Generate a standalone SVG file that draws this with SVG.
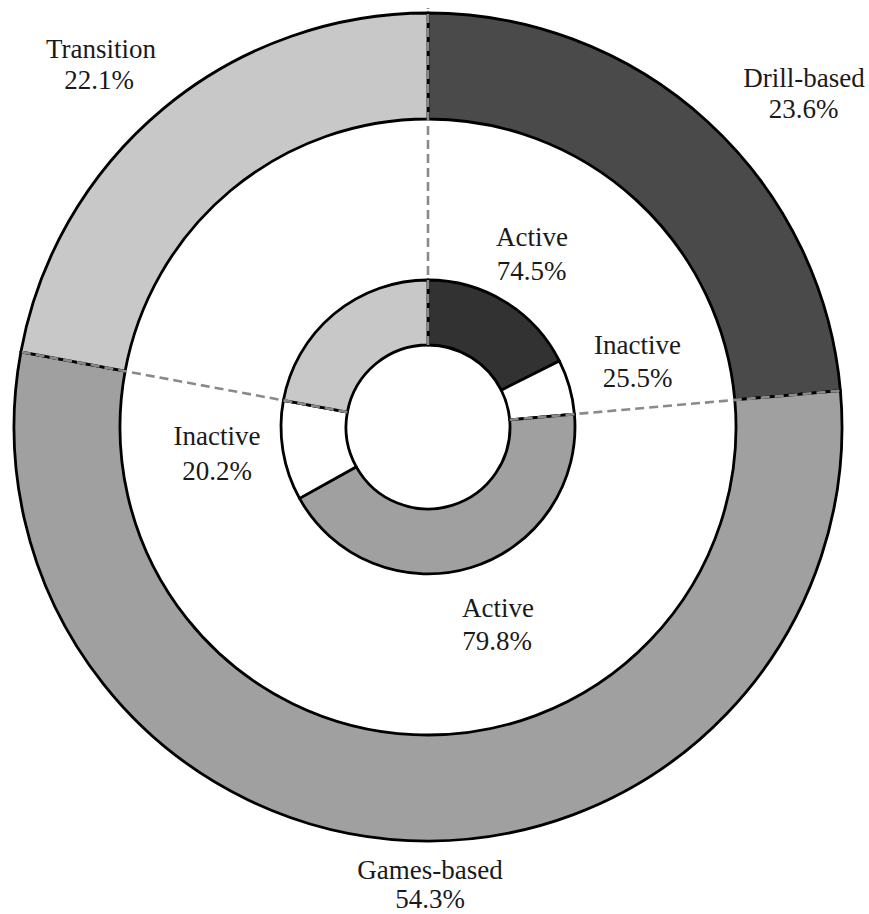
<svg xmlns="http://www.w3.org/2000/svg" width="869" height="914" viewBox="0 0 869 914">
<style>
.seg{stroke:#000;stroke-width:2.8;stroke-linejoin:round}
.drill{fill:#4a4a4a}
.drillA{fill:#323232}
.games{fill:#a0a0a0}
.trans{fill:#c8c8c8}
.white{fill:#fff}
.dash{stroke:#8a8a8a;stroke-width:2.6;stroke-dasharray:9 5;fill:none}
text{font-family:"Liberation Serif","Times New Roman",serif;font-size:27px;fill:#1a1a1a;text-anchor:middle}
</style>
<rect width="869" height="914" fill="#fff"/>
<g id="outer-drill">
<path class="seg drill" d="M428 13 A414 414 0 0 1 840.40 390.63 L734.81 399.94 A308 308 0 0 0 428 119 Z"/>
<text x="804" y="87">Drill-based</text><text x="803.5" y="117.5">23.6%</text>
</g>
<g id="outer-games">
<path class="seg games" d="M840.40 390.63 A414 414 0 1 1 20.86 351.97 L125.10 371.18 A308 308 0 1 0 734.81 399.94 Z"/>
<text x="430" y="879">Games-based</text><text x="430" y="908">54.3%</text>
</g>
<g id="outer-transition">
<path class="seg trans" d="M20.86 351.97 A414 414 0 0 1 428 13 L428 119 A308 308 0 0 0 125.10 371.18 Z"/>
<text x="101" y="58">Transition</text><text x="99" y="88.5">22.1%</text>
</g>
<g id="inner-drill-active">
<path class="seg drillA" d="M428 280 A147 147 0 0 1 559.33 360.95 L501.26 390.16 A82 82 0 0 0 428 345 Z"/>
<text x="532" y="246">Active</text><text x="531.5" y="279.5">74.5%</text>
</g>
<g id="inner-drill-inactive">
<path class="seg white" d="M559.33 360.95 A147 147 0 0 1 574.43 414.09 L509.68 419.80 A82 82 0 0 0 501.26 390.16 Z"/>
<text x="637.5" y="354">Inactive</text><text x="637.5" y="387">25.5%</text>
</g>
<g id="inner-games-active">
<path class="seg games" d="M574.43 414.09 A147 147 0 0 1 299.51 498.39 L356.32 466.82 A82 82 0 0 0 509.68 419.80 Z"/>
<text x="498" y="617">Active</text><text x="497" y="650">79.8%</text>
</g>
<g id="inner-games-inactive">
<path class="seg white" d="M299.51 498.39 A147 147 0 0 1 283.43 400.36 L347.36 412.14 A82 82 0 0 0 356.32 466.82 Z"/>
<text x="217" y="445">Inactive</text><text x="217" y="480">20.2%</text>
</g>
<g id="inner-transition">
<path class="seg trans" d="M283.43 400.36 A147 147 0 0 1 428 280 L428 345 A82 82 0 0 0 347.36 412.14 Z"/>
</g>
<g id="connectors">
<line class="dash" x1="428" y1="345" x2="428" y2="8"/>
<line class="dash" x1="509.68" y1="419.80" x2="843.4" y2="390.4"/>
<line class="dash" x1="347.36" y1="412.14" x2="18.9" y2="351.6"/>
</g>
</svg>
